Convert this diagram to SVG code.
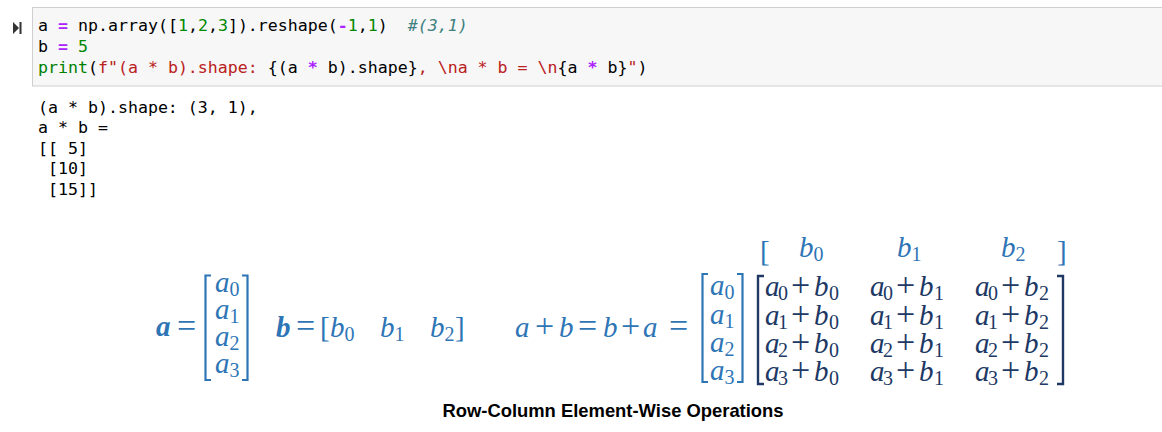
<svg xmlns="http://www.w3.org/2000/svg" width="1162" height="432" viewBox="0 0 1162 432">
  <style>
    .code { font-family: "DejaVu Sans Mono", "Liberation Mono", monospace; font-size: 16.6px; fill: #000; white-space: pre; }
    .op { fill: #aa22ff; font-weight: bold; }
    .num { fill: #008800; }
    .kw { fill: #008000; }
    .str { fill: #ba2121; }
    .cm { fill: #408080; font-style: italic; }
    .m { font-family: "Liberation Serif", "DejaVu Serif", serif; font-size: 29px; fill: #2e75b6; }
    .md { fill: #203864; }
    .it { font-style: italic; }
    .bi { font-style: italic; font-weight: bold; }
    .rel { font-size: 34px; font-style: normal; }
    .sub { font-size: 20px; font-style: normal; }
    .br { fill: none; stroke: #2e75b6; stroke-width: 2.2; }
    .brd { fill: none; stroke: #203864; stroke-width: 2.4; }
    .cap { font-family: "Liberation Sans", Arial, sans-serif; font-size: 18.4px; font-weight: bold; fill: #000; }
  </style>

  <rect width="1162" height="432" fill="#fff"/>

  <!-- code cell -->
  <g id="code-cell">
    <rect x="32.5" y="7.5" width="1140" height="78.5" fill="#f7f7f7" stroke="#cfcfcf" stroke-width="1"/>
    <path d="M13 22 L19 28 L13 34 Z" fill="#333"/>
    <rect x="19.5" y="22" width="2" height="12" fill="#333"/>
    <text class="code" x="38" y="30.5" xml:space="preserve">a <tspan class="op">=</tspan> np.array([<tspan class="num">1</tspan>,<tspan class="num">2</tspan>,<tspan class="num">3</tspan>]).reshape(<tspan class="op">-</tspan><tspan class="num">1</tspan>,<tspan class="num">1</tspan>)  <tspan class="cm">#(3,1)</tspan></text>
    <text class="code" x="38" y="51.5" xml:space="preserve">b <tspan class="op">=</tspan> <tspan class="num">5</tspan></text>
    <text class="code" x="38" y="72.5" xml:space="preserve"><tspan class="kw">print</tspan>(<tspan class="str">f"(a * b).shape: </tspan>{(a <tspan class="op">*</tspan> b).shape}<tspan class="str">, \na * b = \n</tspan>{a <tspan class="op">*</tspan> b}<tspan class="str">"</tspan>)</text>
  </g>

  <!-- printed output -->
  <g id="output">
    <text class="code" x="38" y="112.5" xml:space="preserve">(a * b).shape: (3, 1),</text>
    <text class="code" x="38" y="133" xml:space="preserve">a * b =</text>
    <text class="code" x="38" y="153.5" xml:space="preserve">[[ 5]</text>
    <text class="code" x="38" y="174" xml:space="preserve"> [10]</text>
    <text class="code" x="38" y="194.5" xml:space="preserve"> [15]]</text>
  </g>

  <!-- column vector a -->
  <g id="vec-a" class="m">
    <text class="bi" x="156" y="336">a</text>
    <text class="rel" x="177" y="337">=</text>
    <path class="br" d="M211 275.5 H205.5 V380 H211"/>
    <path class="br" d="M242 275.5 H247.5 V380 H242"/>
    <text class="it" x="215" y="292">a<tspan class="sub" dy="4">0</tspan></text>
    <text class="it" x="215" y="319">a<tspan class="sub" dy="4">1</tspan></text>
    <text class="it" x="215" y="346">a<tspan class="sub" dy="4">2</tspan></text>
    <text class="it" x="215" y="373">a<tspan class="sub" dy="4">3</tspan></text>
  </g>

  <!-- row vector b -->
  <g id="vec-b" class="m">
    <text class="bi" x="276" y="337">b</text>
    <text class="rel" x="296" y="337">=</text>
    <text x="320" y="337">[</text>
    <text class="it" x="330" y="337">b<tspan class="sub" dy="4">0</tspan></text>
    <text class="it" x="380" y="337">b<tspan class="sub" dy="4">1</tspan></text>
    <text class="it" x="430" y="337">b<tspan class="sub" dy="4">2</tspan></text>
    <text x="455" y="337">]</text>
  </g>

  <!-- a + b = b + a = -->
  <g id="sum-lhs" class="m">
    <text class="it" x="515" y="337">a</text>
    <text class="rel" x="535" y="337">+</text>
    <text class="it" x="559" y="337">b</text>
    <text class="rel" x="578" y="337">=</text>
    <text class="it" x="603" y="337">b</text>
    <text class="rel" x="621" y="337">+</text>
    <text class="it" x="643" y="337">a</text>
    <text class="rel" x="669" y="337">=</text>
  </g>

  <!-- broadcast column a -->
  <g id="vec-a-bcast" class="m">
    <path class="br" d="M708 274 H702.5 V382 H708"/>
    <path class="br" d="M737 274 H742.5 V382 H737"/>
    <text class="it" x="710" y="295">a<tspan class="sub" dy="4">0</tspan></text>
    <text class="it" x="710" y="323.5">a<tspan class="sub" dy="4">1</tspan></text>
    <text class="it" x="710" y="352">a<tspan class="sub" dy="4">2</tspan></text>
    <text class="it" x="710" y="380">a<tspan class="sub" dy="4">3</tspan></text>
  </g>

  <!-- broadcast row b (header) -->
  <g id="vec-b-bcast" class="m">
    <text x="760" y="261">[</text>
    <text class="it" x="799" y="257">b<tspan class="sub" dy="4">0</tspan></text>
    <text class="it" x="897" y="257">b<tspan class="sub" dy="4">1</tspan></text>
    <text class="it" x="1001" y="257">b<tspan class="sub" dy="4">2</tspan></text>
    <text x="1057" y="261">]</text>
  </g>

  <!-- result matrix a_i + b_j -->
  <g id="result" class="m md">
    <path class="brd" d="M764 276 H758 V384 H764"/>
    <path class="brd" d="M1057 276 H1063 V384 H1057"/>
    <g id="col-0">
      <text x="765" y="296"><tspan class="it">a</tspan><tspan class="sub" x="778" dy="4">0</tspan><tspan class="rel" x="791" dy="-4">+</tspan><tspan class="it" x="814">b</tspan><tspan class="sub" x="829" dy="4">0</tspan></text>
      <text x="765" y="324.5"><tspan class="it">a</tspan><tspan class="sub" x="778" dy="4">1</tspan><tspan class="rel" x="791" dy="-4">+</tspan><tspan class="it" x="814">b</tspan><tspan class="sub" x="829" dy="4">0</tspan></text>
      <text x="765" y="353"><tspan class="it">a</tspan><tspan class="sub" x="778" dy="4">2</tspan><tspan class="rel" x="791" dy="-4">+</tspan><tspan class="it" x="814">b</tspan><tspan class="sub" x="829" dy="4">0</tspan></text>
      <text x="765" y="381"><tspan class="it">a</tspan><tspan class="sub" x="778" dy="4">3</tspan><tspan class="rel" x="791" dy="-4">+</tspan><tspan class="it" x="814">b</tspan><tspan class="sub" x="829" dy="4">0</tspan></text>
    </g>
    <g id="col-1">
      <text x="870" y="296"><tspan class="it">a</tspan><tspan class="sub" x="883" dy="4">0</tspan><tspan class="rel" x="896" dy="-4">+</tspan><tspan class="it" x="919">b</tspan><tspan class="sub" x="934" dy="4">1</tspan></text>
      <text x="870" y="324.5"><tspan class="it">a</tspan><tspan class="sub" x="883" dy="4">1</tspan><tspan class="rel" x="896" dy="-4">+</tspan><tspan class="it" x="919">b</tspan><tspan class="sub" x="934" dy="4">1</tspan></text>
      <text x="870" y="353"><tspan class="it">a</tspan><tspan class="sub" x="883" dy="4">2</tspan><tspan class="rel" x="896" dy="-4">+</tspan><tspan class="it" x="919">b</tspan><tspan class="sub" x="934" dy="4">1</tspan></text>
      <text x="870" y="381"><tspan class="it">a</tspan><tspan class="sub" x="883" dy="4">3</tspan><tspan class="rel" x="896" dy="-4">+</tspan><tspan class="it" x="919">b</tspan><tspan class="sub" x="934" dy="4">1</tspan></text>
    </g>
    <g id="col-2">
      <text x="975" y="296"><tspan class="it">a</tspan><tspan class="sub" x="988" dy="4">0</tspan><tspan class="rel" x="1001" dy="-4">+</tspan><tspan class="it" x="1024">b</tspan><tspan class="sub" x="1039" dy="4">2</tspan></text>
      <text x="975" y="324.5"><tspan class="it">a</tspan><tspan class="sub" x="988" dy="4">1</tspan><tspan class="rel" x="1001" dy="-4">+</tspan><tspan class="it" x="1024">b</tspan><tspan class="sub" x="1039" dy="4">2</tspan></text>
      <text x="975" y="353"><tspan class="it">a</tspan><tspan class="sub" x="988" dy="4">2</tspan><tspan class="rel" x="1001" dy="-4">+</tspan><tspan class="it" x="1024">b</tspan><tspan class="sub" x="1039" dy="4">2</tspan></text>
      <text x="975" y="381"><tspan class="it">a</tspan><tspan class="sub" x="988" dy="4">3</tspan><tspan class="rel" x="1001" dy="-4">+</tspan><tspan class="it" x="1024">b</tspan><tspan class="sub" x="1039" dy="4">2</tspan></text>
    </g>
  </g>

  <text id="caption" class="cap" x="613" y="417" text-anchor="middle">Row-Column Element-Wise Operations</text>
</svg>
